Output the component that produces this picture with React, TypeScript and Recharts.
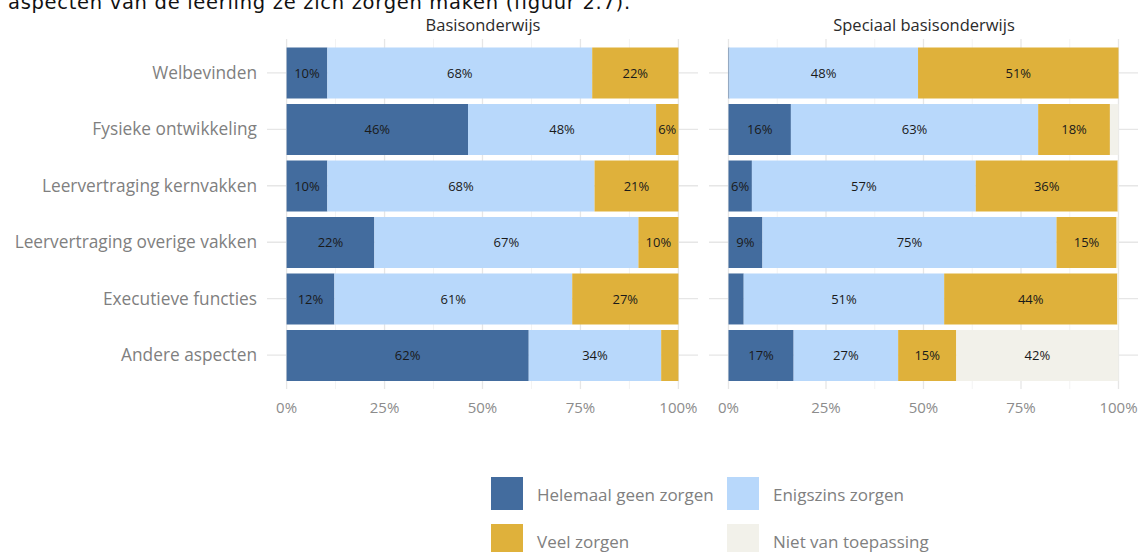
import React from 'react';
import { BarChart, Bar, XAxis, YAxis, CartesianGrid, LabelList } from 'recharts';

const categories = [
  'Welbevinden',
  'Fysieke ontwikkeling',
  'Leervertraging kernvakken',
  'Leervertraging overige vakken',
  'Executieve functies',
  'Andere aspecten',
];
const seriesKeys = ['geen', 'enigszins', 'veel', 'nvt'];
const seriesNames = ['Helemaal geen zorgen', 'Enigszins zorgen', 'Veel zorgen', 'Niet van toepassing'];
const seriesColors = ['#436c9e', '#b8d8fb', '#dfb13b', '#f2f1ea'];

const panelTitles = ['Basisonderwijs', 'Speciaal basisonderwijs'];

// Basisonderwijs
const basisGeen = [10.4, 46.3, 10.4, 22.4, 12.2, 61.8];
const basisEnigszins = [67.6, 48.0, 68.2, 67.4, 60.7, 33.8];
const basisVeel = [22.0, 5.7, 21.4, 10.2, 27.1, 4.4];
const basisNvt = [0, 0, 0, 0, 0, 0];

// Speciaal basisonderwijs
const sboGeen = [0.2, 16.0, 6.0, 8.7, 3.9, 16.7];
const sboEnigszins = [48.4, 63.4, 57.4, 75.4, 51.4, 26.8];
const sboVeel = [51.4, 18.4, 36.4, 15.4, 44.4, 14.9];
const sboNvt = [0, 2.2, 0.2, 0.5, 0.3, 41.6];

const xTicks = [0, 25, 50, 75, 100];
const minorTicks = [12.5, 37.5, 62.5, 87.5];
const X_DOMAIN = [-5, 105];
const Y_PAD = 5.6;

const build = (a: number[], b: number[], c: number[], d: number[]) =>
  categories.map((cat, i) => ({ cat, geen: a[i], enigszins: b[i], veel: c[i], nvt: d[i] }));

const basisData = build(basisGeen, basisEnigszins, basisVeel, basisNvt);
const sboData = build(sboGeen, sboEnigszins, sboVeel, sboNvt);

const FONT = "'Open Sans', sans-serif";

const xPos = (props: any, t: number) => {
  const { xAxis, offset } = props || {};
  if (xAxis && typeof xAxis.scale === 'function') {
    const v = xAxis.scale(t);
    if (typeof v === 'number' && !isNaN(v)) return v;
  }
  return offset.left + (offset.width * (t - X_DOMAIN[0])) / (X_DOMAIN[1] - X_DOMAIN[0]);
};

const minorGen = (props: any) => minorTicks.map((t) => xPos(props, t));
const majorGen = (props: any) => xTicks.map((t) => xPos(props, t));
const horizGen = (props: any) => {
  const { yAxis, offset } = props || {};
  return categories.map((c, i) => {
    if (yAxis && typeof yAxis.scale === 'function' && typeof yAxis.scale.bandwidth === 'function') {
      const v = yAxis.scale(c);
      if (typeof v === 'number' && !isNaN(v)) return v + yAxis.scale.bandwidth() / 2;
    }
    const band = (offset.height - 2 * Y_PAD) / categories.length;
    return offset.top + Y_PAD + band * (i + 0.5);
  });
};

function Panel({ data, width, left, marginLeft, marginRight, yWidth, showY }: any) {
  return (
    <div style={{ position: 'absolute', left, top: 0 }}>
      <BarChart
        layout="vertical"
        width={width}
        height={430}
        data={data}
        margin={{ top: 39, right: marginRight, bottom: 0, left: marginLeft }}
        barSize={51}
        style={{ fontFamily: FONT }}
      >
        <CartesianGrid horizontal={false} stroke="#f3f3f3" strokeWidth={1} verticalCoordinatesGenerator={minorGen} />
        <CartesianGrid
          stroke="#e6e6e6"
          strokeWidth={1.3}
          verticalCoordinatesGenerator={majorGen}
          horizontalCoordinatesGenerator={horizGen}
        />
        <XAxis
          type="number"
          domain={X_DOMAIN}
          ticks={xTicks}
          allowDataOverflow
          interval={0}
          tickFormatter={(v: number) => `${v}%`}
          axisLine={false}
          tickLine={false}
          tickSize={0}
          tickMargin={13}
          height={41}
          tick={{ fill: '#8c8c8c', fontSize: 15, fontFamily: FONT }}
        />
        <YAxis
          type="category"
          dataKey="cat"
          width={yWidth}
          axisLine={false}
          tickLine={false}
          tickSize={0}
          tickMargin={10}
          interval={0}
          padding={{ top: Y_PAD, bottom: Y_PAD }}
          tick={showY ? { fill: '#7f7f7f', fontSize: 17.3, fontFamily: FONT } : false}
        />
        {seriesKeys.map((k, i) => (
          <Bar key={k} dataKey={k} stackId="s" fill={seriesColors[i]} isAnimationActive={false} name={seriesNames[i]}>
            <LabelList
              dataKey={k}
              position="center"
              formatter={(v: any) => (Number(v) >= 5 ? `${Math.round(Number(v))}%` : '')}
              fill="#1a1a1a"
              fontSize={13}
              fontFamily={FONT}
            />
          </Bar>
        ))}
      </BarChart>
    </div>
  );
}

export default function App() {
  const legendItems = seriesNames.map((n, i) => ({
    name: n,
    color: seriesColors[i],
    x: i % 2 === 0 ? 491 : 727,
    y: i < 2 ? 477 : 524,
  }));
  return (
    <div style={{ position: 'absolute', left: 0, top: 0, width: 1146, height: 552, overflow: 'hidden', background: '#fff' }}>
      <Panel data={basisData} width={700} left={0} marginLeft={0} marginRight={2} yWidth={267} showY />
      <Panel data={sboData} width={446} left={700} marginLeft={0} marginRight={8} yWidth={9} showY={false} />
      <svg width={1146} height={552} style={{ position: 'absolute', left: 0, top: 0, pointerEvents: 'none' }}>
        <text x={8} y={9} fontFamily="'DejaVu Sans', sans-serif" fontSize={19.5} letterSpacing={0.7} fill="#111">
          aspecten van de leerling ze zich zorgen maken (figuur 2.7).
        </text>
        <text x={483} y={31} textAnchor="middle" fontFamily={FONT} fontSize={16.5} fill="#2b2b2b">
          {panelTitles[0]}
        </text>
        <text x={924} y={31} textAnchor="middle" fontFamily={FONT} fontSize={16.5} fill="#2b2b2b">
          {panelTitles[1]}
        </text>
        {legendItems.map((it) => (
          <g key={it.name}>
            <rect x={it.x} y={it.y} width={32} height={33} fill={it.color} />
            <text x={it.x + 46} y={it.y + 17} dominantBaseline="central" fontFamily={FONT} fontSize={17} fill="#808080">
              {it.name}
            </text>
          </g>
        ))}
      </svg>
    </div>
  );
}
